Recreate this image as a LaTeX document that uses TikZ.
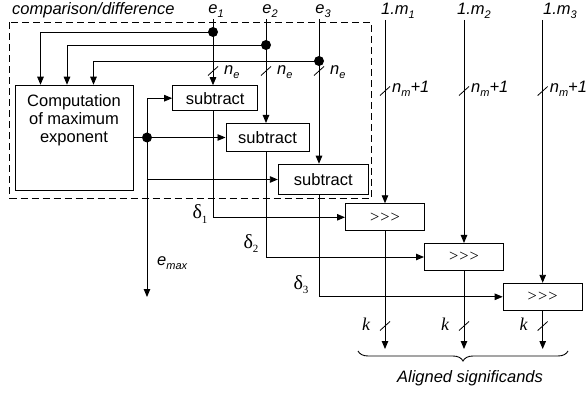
\documentclass[tikz,border=0pt]{standalone}
\usepackage{fontspec}
\setmainfont{Liberation Serif}
\setsansfont{Liberation Sans}
\usetikzlibrary{arrows.meta,decorations.pathreplacing,calc}
\newcommand\lsub[1]{\raisebox{-0.45ex}{\fontsize{11}{11}\selectfont #1}}
\newcommand\fsz{\fontsize{16.5}{18}\selectfont}
\newcommand\shr{>\kern1pt>\kern1pt>}
\begin{document}
\begin{tikzpicture}[x=1pt,y=-1pt,
  wire/.style={line width=0.9pt},
  arr/.style={wire,-{Triangle[length=8pt,width=6.5pt]}},
  box/.style={draw,line width=1pt,inner sep=0pt,font=\sffamily\fsz},
  shbox/.style={draw,line width=1pt,inner sep=0pt,font=\rmfamily\fsz,minimum width=79pt,minimum height=27pt},
  dotn/.style={circle,fill,inner sep=0pt,minimum size=10pt},
  slab/.style={font=\sffamily\itshape\fsz,inner sep=0pt},
  dlab/.style={font=\rmfamily\fontsize{20}{20}\selectfont,inner sep=0pt},
  klab/.style={font=\rmfamily\itshape\fontsize{18}{18}\selectfont,inner sep=0pt},
  tick/.style={line width=0.8pt}
]
\useasboundingbox (0,0) rectangle (587,393);

% dashed region
\draw[line width=0.9pt,dash pattern=on 7pt off 4pt] (9.5,22.5) rectangle (371,198.5);
\node[slab,anchor=west] (cmp) at (12,10) {comparison/difference};

% boxes
\node[box,minimum width=118pt,minimum height=105.5pt] (comp) at (74,138) {};
\node[font=\sffamily\fsz,align=center,inner sep=0pt] (comptext) at (74,120) {Computation\\of maximum\\exponent};
\node[box,minimum width=85pt,minimum height=25pt] (sub1) at (215.2,98.2) {subtract};
\node[box,minimum width=83pt,minimum height=28pt] (sub2) at (267.5,137.5) {subtract};
\node[box,minimum width=90pt,minimum height=30.5pt] (sub3) at (323.3,179.5) {subtract};

\node[shbox] (sh1) at (385,217.3) {\shr};
\node[shbox] (sh2) at (464,257) {\shr};
\node[shbox] (sh3) at (542.7,296.8) {\shr};

% exponent inputs
\node[slab] (e1) at (216,11) {e\lsub{1}};
\node[slab] (e2) at (270,11) {e\lsub{2}};
\node[slab] (e3) at (323,11) {e\lsub{3}};
\coordinate (e1s) at (213,19);
\coordinate (e2s) at (266,19);
\coordinate (e3s) at (319,19);
\draw[arr] (e1s) -- (e1s |- sub1.north);
\draw[arr] (e2s) -- (e2s |- sub2.north);
\draw[arr] (e3s) -- (e3s |- sub3.north);

\node[dotn] (d1) at (213,32) {};
\node[dotn] (d2) at (266,45) {};
\node[dotn] (d3) at (319,61) {};
\draw[arr] (d1.center) -| ($(comp.north west)+(26,0)$);
\draw[arr] (d2.center) -| ($(comp.north west)+(52.5,0)$);
\draw[arr] (d3.center) -| ($(comp.north west)+(79,0)$);

% n_e ticks
\foreach \c/\n in {e1s/ne1,e2s/ne2,e3s/ne3}{
  \draw[tick] ($(\c |- 0,71)+(-5,4.5)$) -- ++(10,-9);
  \node[slab,anchor=west] (\n) at ($(\c |- 0,72)+(11,0)$) {n\lsub{e}};
}

% comp output distribution
\node[dotn] (dc) at (147,137.5) {};
\draw[wire] (comp.east |- dc) -- (dc.center);
\draw[arr] (dc.center) -- (sub2.west |- dc);
\draw[arr] (dc.center) |- (sub1.west);
\draw[arr] (dc.center) |- (sub3.west);
\coordinate (emx) at (147,297);
\draw[arr] (dc.center) -- (emx);
\node[slab,anchor=west] (emaxl) at (157,263) {e\lsub{max}};

% deltas
\draw[arr] (sub1.south -| e1s) |- (sh1.west);
\draw[arr] (sub2.south -| e2s) |- (sh2.west);
\draw[arr] (sub3.south -| e3s) |- (sh3.west);
\node[dlab] (dl1) at (200,214) {δ\lsub{1}};
\node[dlab] (dl2) at (251,243.5) {δ\lsub{2}};
\node[dlab] (dl3) at (301,284.5) {δ\lsub{3}};

% mantissa inputs
\node[slab] (m1) at (398,11) {1.m\lsub{1}};
\node[slab] (m2) at (474,11) {1.m\lsub{2}};
\node[slab] (m3) at (560,11) {1.m\lsub{3}};
\coordinate (m1s) at (385,20);
\coordinate (m2s) at (464,20);
\coordinate (m3s) at (542.7,20);
\draw[arr] (m1s) -- (sh1.north);
\draw[arr] (m2s) -- (sh2.north);
\draw[arr] (m3s) -- (sh3.north);
\foreach \c/\n in {m1s/nm1,m2s/nm2,m3s/nm3}{
  \draw[tick] ($(\c |- 0,91)+(-5,4.5)$) -- ++(10,-9);
  \node[slab,anchor=west] (\n) at ($(\c |- 0,89)+(7,0)$) {n\lsub{m}+1};
}

% outputs
\coordinate (o1) at (385,349);
\coordinate (o2) at (464,349);
\coordinate (o3) at (542.7,349);
\draw[arr] (sh1.south) -- (o1);
\draw[arr] (sh2.south) -- (o2);
\draw[arr] (sh3.south) -- (o3);
\foreach \c/\n in {o1/k1,o2/k2,o3/k3}{
  \draw[tick] ($(\c |- 0,326)+(-5,4.5)$) -- ++(10,-9);
  \node[klab] (\n) at ($(\c |- 0,324)+(-19,0)$) {k};
}

% brace
\draw[wire,decorate,decoration={brace,mirror,amplitude=10pt}] (358,351) -- (568,351);
\node[slab] (al) at (470,378) {Aligned significands};
\end{tikzpicture}
\end{document}
